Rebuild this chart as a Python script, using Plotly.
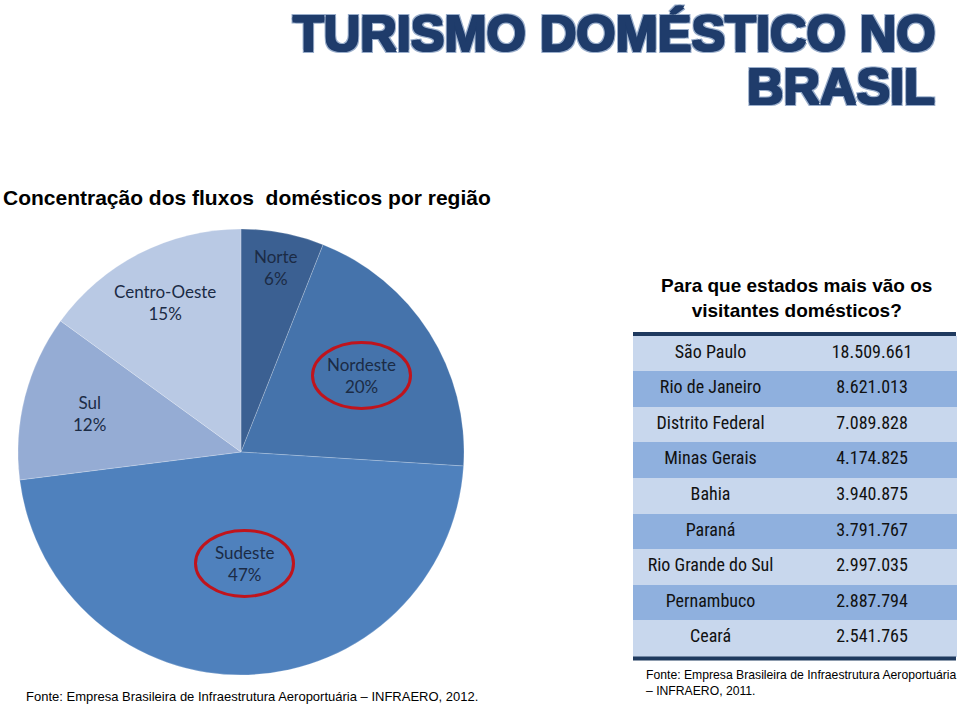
import math
import plotly.graph_objects as go

# pie data: share of domestic flows by region (%)
regioes = ["Norte", "Nordeste", "Sudeste", "Sul", "Centro-Oeste"]
percentuais = [6, 20, 47, 12, 15]
cores_pie = ["#3b6092", "#4573ab", "#4f81bd", "#95acd4", "#b9c9e4"]
destaque = ["Nordeste", "Sudeste"]

# table data: visitors by state
estados = ["São Paulo", "Rio de Janeiro", "Distrito Federal", "Minas Gerais", "Bahia",
           "Paraná", "Rio Grande do Sul", "Pernambuco", "Ceará"]
visitantes = ["18.509.661", "8.621.013", "7.089.828", "4.174.825", "3.940.875",
              "3.791.767", "2.997.035", "2.887.794", "2.541.765"]

W, H = 960, 712
NARROW = "Roboto Condensed, DejaVu Sans Condensed, Roboto, Liberation Sans, sans-serif"
ARIAL = "Liberation Sans, Arial, sans-serif"


def px(x):
    return x / W


def py(y):
    return 1 - y / H


fig = go.Figure()

# pie placed in pixel box
cx, cy, r = 241, 452, 223
fig.add_trace(go.Pie(
    labels=regioes,
    values=percentuais,
    sort=False,
    direction="clockwise",
    rotation=0,
    marker=dict(colors=cores_pie, line=dict(color="rgba(255,255,255,0.35)", width=0.6)),
    textinfo="none",
    hoverinfo="label+percent",
    showlegend=False,
    domain=dict(x=[px(cx - r), px(cx + r)], y=[py(cy + r), py(cy - r)]),
))

# labels at the middle angle of each slice
frac_raio = [0.84, 0.64, 0.5, 0.7, 0.75]
total = sum(percentuais)
acum = 0
for nome, v, fr in zip(regioes, percentuais, frac_raio):
    ang = 2 * math.pi * (acum + v / 2) / total
    acum += v
    lx = cx + fr * r * math.sin(ang)
    ly = cy - fr * r * math.cos(ang)
    fig.add_annotation(
        x=px(lx), y=py(ly), xref="paper", yref="paper",
        text=f"{nome}<br>{v}%", showarrow=False,
        font=dict(family="Lato, Open Sans, sans-serif", size=17, color="#1b2b45"),
        xanchor="center", yanchor="middle", align="center",
    )
    if nome in destaque:
        fig.add_shape(
            type="circle", xref="paper", yref="paper",
            x0=px(lx - 49), x1=px(lx + 49), y0=py(ly + 33), y1=py(ly - 33),
            line=dict(color="#c0141c", width=3),
        )

# table
tx0, tx1, ty0 = 633, 956, 332
row_h = 35.6
header_h = 4
ty1 = ty0 + header_h + row_h * len(estados)
claro, escuro = "#c8d7ed", "#8fb0de"
fill_rows = [claro if i % 2 == 0 else escuro for i in range(len(estados))]

fig.add_trace(go.Table(
    domain=dict(x=[px(tx0), px(tx1)], y=[py(ty1 + 1), py(ty0)]),
    columnwidth=[0.48, 0.52],
    header=dict(values=["", ""], height=header_h, fill_color="#1f3a5f",
                line=dict(color="#1f3a5f", width=0)),
    cells=dict(
        values=[estados, visitantes],
        height=row_h,
        fill_color=[fill_rows, fill_rows],
        line=dict(color=[fill_rows, fill_rows], width=1),
        align=["center", "center"],
        font=dict(family=NARROW, size=18, color="#111111", weight="normal"),
    ),
))

fig.add_shape(type="rect", xref="paper", yref="paper",
              x0=px(tx0), x1=px(tx1), y0=py(ty1 + 4), y1=py(ty1),
              fillcolor="#1f3a5f", line=dict(width=0))

# titles and texts
contorno = ("-1px -1px 0 #1f3c6b, 1px -1px 0 #1f3c6b, -1px 1px 0 #1f3c6b, 1px 1px 0 #1f3c6b, "
            "-2px -2px 0 #9aaecb, 2px -2px 0 #9aaecb, -2px 2px 0 #9aaecb, 2px 2px 0 #9aaecb")
titulo_font = dict(family="Liberation Sans, Arial Black, sans-serif", size=50.5, color="#1f3c6b",
                   weight="bold", shadow=contorno)
fig.add_annotation(x=px(937), y=py(33), xref="paper", yref="paper", text="TURISMO DOMÉSTICO NO",
                   showarrow=False, xanchor="right", yanchor="middle", font=titulo_font)
fig.add_annotation(x=px(937), y=py(86), xref="paper", yref="paper", text="BRASIL",
                   showarrow=False, xanchor="right", yanchor="middle", font=titulo_font)

fig.add_annotation(x=px(1), y=py(197), xref="paper", yref="paper",
                   text="<b>Concentração dos fluxos  domésticos por região</b>",
                   showarrow=False, xanchor="left", yanchor="middle",
                   font=dict(family=ARIAL, size=21, color="#000000"))

fig.add_annotation(x=px(796), y=py(298), xref="paper", yref="paper",
                   text="<b>Para que estados mais vão os<br>visitantes domésticos?</b>",
                   showarrow=False, xanchor="center", yanchor="middle", align="center",
                   font=dict(family=ARIAL, size=19, color="#000000"))

fig.add_annotation(x=px(24), y=py(696), xref="paper", yref="paper",
                   text="Fonte: Empresa Brasileira de Infraestrutura Aeroportuária – INFRAERO, 2012.",
                   showarrow=False, xanchor="left", yanchor="middle",
                   font=dict(family=ARIAL, size=13, color="#000000"))

fig.add_annotation(x=px(644), y=py(683), xref="paper", yref="paper",
                   text="Fonte: Empresa Brasileira de Infraestrutura Aeroportuária<br>– INFRAERO, 2011.",
                   showarrow=False, xanchor="left", yanchor="middle", align="left",
                   font=dict(family=ARIAL, size=12.2, color="#000000"))

fig.update_layout(
    width=W, height=H,
    margin=dict(l=0, r=0, t=0, b=0),
    paper_bgcolor="white",
    plot_bgcolor="white",
)

fig.write_html("out.html", config={"displayModeBar": False},
               post_script="document.body.style.margin='0';")
